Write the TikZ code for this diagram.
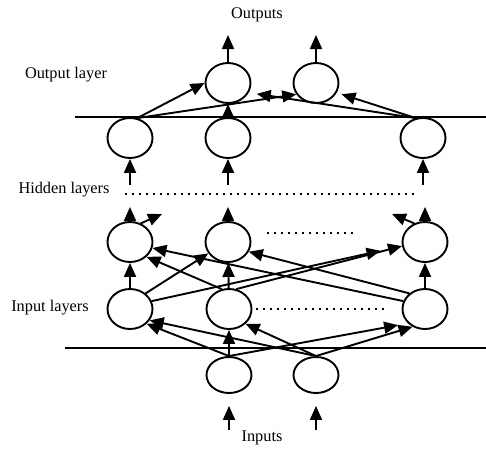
\documentclass[tikz,border=0pt]{standalone}
\usepackage{fontspec}
\setmainfont{Liberation Serif}
\usetikzlibrary{positioning,shapes.geometric,arrows.meta}

\tikzset{
    unit/.style={draw, ellipse, minimum width=45pt, minimum height=40pt, inner sep=0pt},
    inunit/.style={unit, minimum height=36pt},
    dots/.style={-, dash pattern=on 2pt off 5pt, line width=2pt},
    lbl/.style={font=\fontsize{16.3}{19}\selectfont}
}

\begin{document}
\begin{tikzpicture}[x=1pt,y=-1pt,->,>={Triangle[length=14pt,width=12pt]},line width=1.9pt]
    \useasboundingbox (0,0) rectangle (486,450);

    % labels
    \node[lbl] (outs) at (257,15) {Outputs};
    \node[lbl] (outl) at (66,75) {Output layer};
    \node[lbl] (hidl) at (64,190) {Hidden layers};
    \node[lbl] (inl) at (50,308) {Input layers};
    \node[lbl] (ins) at (262,438) {Inputs};

    % output layer
    \node[unit] (O1) at (228,83) {};
    \node[unit] (O2) at (316,83) {};
    % upper hidden layer
    \node[unit] (T1) at (130,138) {};
    \node[unit] (T2) at (228,138) {};
    \node[unit] (T3) at (423,138) {};
    % lower hidden layer
    \node[unit] (M1) at (130,242) {};
    \node[unit] (M2) at (228,242) {};
    \node[unit] (M3) at (425,242) {};
    % input layer
    \node[unit] (L1) at (130,309) {};
    \node[unit] (L2) at (229,309) {};
    \node[unit] (L3) at (425,309) {};
    % inputs
    \node[inunit] (X1) at (229,375) {};
    \node[inunit] (X2) at (316,375) {};

    % free ends
    \coordinate (o1) at (228,35);
    \coordinate (o2) at (316,35);
    \coordinate (t1) at (130,185);
    \coordinate (t2) at (228,185);
    \coordinate (t3) at (423,185);
    \coordinate (m1) at (130,207);
    \coordinate (m2) at (228,207);
    \coordinate (m3) at (425,207);
    \coordinate (m1d) at (162,214);
    \coordinate (m3d) at (392,214);
    \coordinate (x1) at (229,430);
    \coordinate (x2) at (316,430);
    \coordinate (hd1) at (125,194);
    \coordinate (hd2) at (415,194);
    \coordinate (md1) at (267,233);
    \coordinate (md2) at (357,233);

    % layer borders
    \draw[-] (75,117) -- (486,117);
    \draw[-] (65,348) -- (486,348);

    % dotted gaps
    \draw[dots] (hd1) -- (hd2);
    \draw[dots] (md1) -- (md2);
    \draw[dots, shorten <=4pt, shorten >=17pt] (L2.east) -- (L3.west);

    % outputs
    \draw (O1.north) -- (o1);
    \draw (O2.north) -- (o2);

    % upper hidden -> output
    \draw (T1.70) -- (O1.west);
    \draw (T1.70) -- (O2.210);
    \draw (T2.north) -- (O1.south);
    \draw[shorten >=8pt] (T3.110) -- (O1.335);
    \draw[shorten >=5pt] (T3.110) -- (O2.335);

    % hidden layers
    \draw (t1) -- (T1.south);
    \draw (t2) -- (T2.south);
    \draw (t3) -- (T3.south);
    \draw (M1.north) -- (m1);
    \draw (M2.north) -- (m2);
    \draw (M3.north) -- (m3);
    \draw (M1.60) -- (m1d);
    \draw (M3.120) -- (m3d);

    % input layer -> lower hidden
    \draw (L1) -- (M1);
    \draw (L1.45) -- (M2.210);
    \draw[shorten >=22pt] (L1.20) -- (M3.190);
    \draw (L2.110) -- (M1.south east);
    \draw (L2) -- (M2);
    \draw (L2.70) -- (M3.190);
    \draw (L3.160) -- (M1.345);
    \draw (L3.135) -- (M2.335);
    \draw (L3) -- (M3);

    % inputs -> input layer
    \draw (X1.north) -- (L1.south east);
    \draw (X1) -- (L2);
    \draw[shorten >=10pt] (X1.north) -- (L3.220);
    \draw (X2.north) -- (L1.330);
    \draw (X2.north) -- (L2.south east);
    \draw (X2.north) -- (L3.235);
    \draw[shorten >=12pt] (x1) -- (X1.south);
    \draw[shorten >=12pt] (x2) -- (X2.south);
\end{tikzpicture}
\end{document}
